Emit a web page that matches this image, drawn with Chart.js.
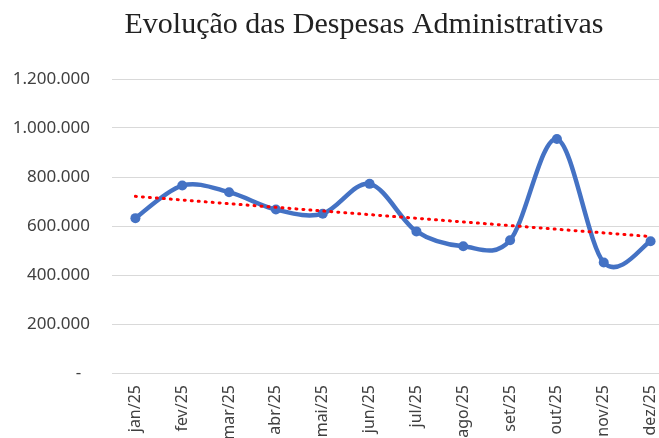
<!DOCTYPE html>
<html lang="pt-BR">
<head>
<meta charset="utf-8">
<title>Evolução das Despesas Administrativas</title>
<script src="https://cdn.jsdelivr.net/npm/chart.js@4.4.1/dist/chart.umd.min.js"></script>
<style>
  html, body { margin: 0; padding: 0; background: #fff; overflow: hidden; }
  #wrap { position: relative; width: 659px; height: 438px; overflow: hidden; }
  #wrap canvas { position: absolute; left: 0; top: 0; }
</style>
</head>
<body>
<div id="wrap"><canvas id="despesas" width="700" height="453"></canvas></div>
<script>
const chartTitle = 'Evolução das Despesas Administrativas';
const months = ['jan/25', 'fev/25', 'mar/25', 'abr/25', 'mai/25', 'jun/25',
                'jul/25', 'ago/25', 'set/25', 'out/25', 'nov/25', 'dez/25'];
const despesas = [632000, 765000, 738000, 667000, 650000, 772000,
                  578000, 517000, 542000, 955000, 451000, 538000];
// linear trend, only the two ends
const tendencia = [721000, null, null, null, null, null,
                   null, null, null, null, null, 557000];
const yMax = 1200000;
const yStep = 200000;

function formatBR(v) {
    if (v === 0) return '-  ';
    return String(v).replace(/\B(?=(\d{3})+(?!\d))/g, '.');
}

// title drawn by hand so it can sit centred over the visible picture
const titlePlugin = {
    id: 'centredTitle',
    afterDraw(chart) {
        const ctx = chart.ctx;
        ctx.save();
        ctx.font = '30px "Liberation Serif"';
        ctx.fillStyle = '#222222';
        ctx.textAlign = 'center';
        ctx.textBaseline = 'alphabetic';
        ctx.fillText(chartTitle, 364, 33);
        ctx.restore();
    }
};

// Excel style smoothing: uniform Catmull-Rom (1/6) control points
// instead of Chart.js' distance weighted ones
const excelSmooth = {
    id: 'excelSmooth',
    afterDatasetsUpdate(chart) {
        chart.data.datasets.forEach((ds, i) => {
            if (!ds.excelSmooth) return;
            const meta = chart.getDatasetMeta(i);
            const pts = meta.data;
            const n = pts.length;
            for (let k = 0; k < n; k++) {
                const prev = pts[Math.max(k - 1, 0)];
                const next = pts[Math.min(k + 1, n - 1)];
                const dx = (next.x - prev.x) / 6;
                const dy = (next.y - prev.y) / 6;
                pts[k].cp1x = pts[k].x - dx;
                pts[k].cp1y = pts[k].y - dy;
                pts[k].cp2x = pts[k].x + dx;
                pts[k].cp2y = pts[k].y + dy;
            }
            meta.dataset._pointsUpdated = true;
        });
    }
};

const ctx = document.getElementById('despesas').getContext('2d');
new Chart(ctx, {
    type: 'line',
    data: {
        labels: months,
        datasets: [
            {
                label: 'Tendência',
                data: tendencia,
                spanGaps: true,
                borderColor: '#FF0000',
                borderWidth: 3,
                borderDash: [1, 6],
                borderCapStyle: 'round',
                pointRadius: 0,
                tension: 0,
                order: 1
            },
            {
                label: 'Despesas Administrativas',
                data: despesas,
                excelSmooth: true,
                borderColor: '#4472C4',
                backgroundColor: '#4472C4',
                borderWidth: 4.5,
                pointRadius: 5,
                pointBorderWidth: 0,
                pointBackgroundColor: '#4472C4',
                tension: 0.4,
                order: 2
            }
        ]
    },
    options: {
        responsive: false,
        animation: false,
        devicePixelRatio: 1,
        layout: { padding: { top: 79, right: 26, bottom: 0, left: 0 } },
        plugins: {
            legend: { display: false },
            title: { display: false },
            tooltip: { enabled: false }
        },
        scales: {
            x: {
                offset: true,
                grid: { display: false, drawTicks: false },
                border: { display: true, color: '#d9d9d9', width: 1 },
                ticks: {
                    minRotation: 90,
                    maxRotation: 90,
                    padding: 12,
                    color: '#404040',
                    font: { family: '"Noto Sans"', size: 16 }
                },
                afterFit(scale) { scale.height = 80; }
            },
            y: {
                min: 0,
                max: yMax,
                grid: { color: '#d9d9d9', lineWidth: 1, drawTicks: false },
                border: { display: false },
                ticks: {
                    stepSize: yStep,
                    padding: 22,
                    color: '#404040',
                    font: { family: '"Noto Sans"', size: 17 },
                    callback: (v) => formatBR(v)
                },
                afterFit(scale) { scale.width = 112; }
            }
        }
    },
    plugins: [titlePlugin, excelSmooth]
});
</script>
</body>
</html>
